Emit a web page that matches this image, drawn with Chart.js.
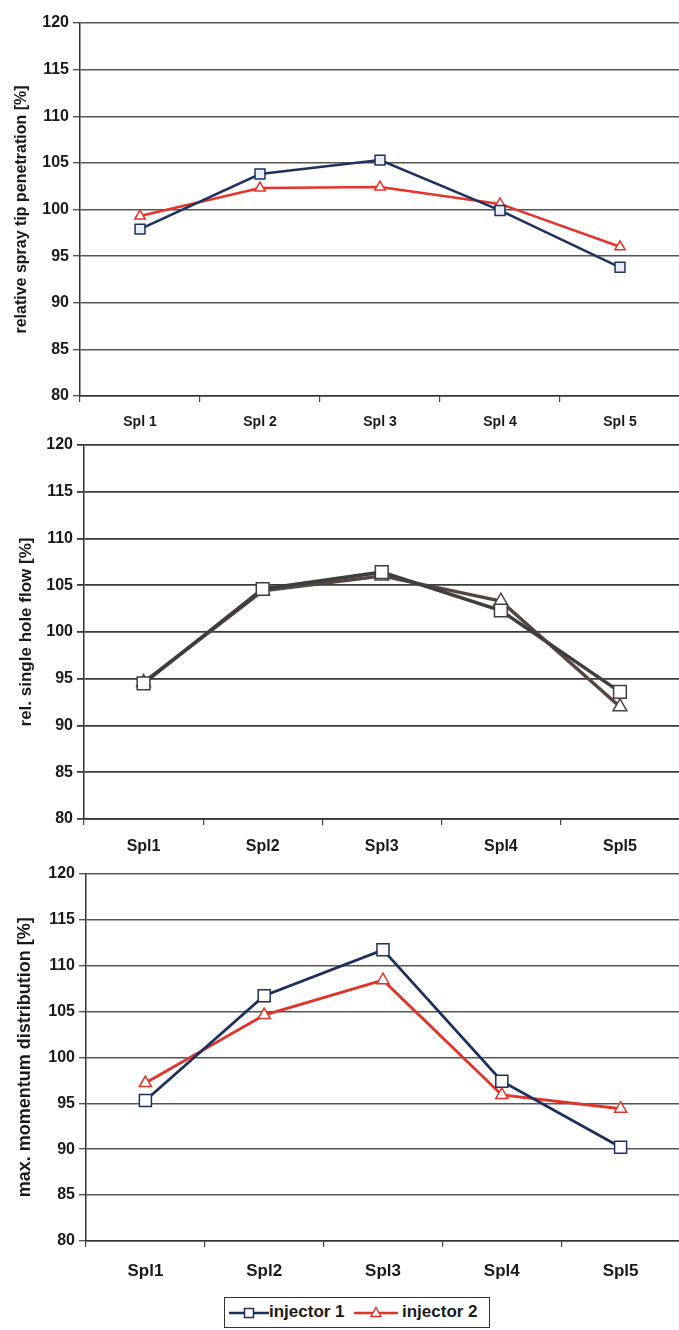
<!DOCTYPE html>
<html>
<head>
<meta charset="utf-8">
<script src="https://cdn.jsdelivr.net/npm/chart.js@4.4.1/dist/chart.umd.min.js"></script>
<style>
  html, body { margin: 0; padding: 0; background: #fff; }
  body { width: 679px; height: 1330px; overflow: hidden; position: relative; font-family: "Liberation Sans", Arial, sans-serif; }
  canvas { position: absolute; left: 0; }
  #legend { position: absolute; left: 224px; top: 1297px; width: 264px; height: 29px; border: 1.5px solid #333; background: #fff; }
  #legend svg { position: absolute; left: 0; top: 0; }
  #legend span { position: absolute; top: 4px; font-weight: bold; font-size: 17px; color: #1a1a1a; white-space: nowrap; }
</style>
</head>
<body>
<canvas id="c1" width="690" height="440" style="top:0px"></canvas>
<canvas id="c2" width="690" height="430" style="top:430px"></canvas>
<canvas id="c3" width="690" height="430" style="top:860px"></canvas>
<div id="legend">
  <svg width="264" height="29">
    <line x1="4" y1="15" x2="44" y2="15" stroke="#1c2f5e" stroke-width="2.5"/>
    <rect x="19.5" y="10.5" width="9" height="9" fill="#fff" stroke="#1c2f5e" stroke-width="1.5"/>
    <line x1="129" y1="15" x2="173" y2="15" stroke="#e0342b" stroke-width="2.5"/>
    <polygon points="151,9.5 156,18.5 146,18.5" fill="#fff" stroke="#e0342b" stroke-width="1.5"/>
  </svg>
  <span style="left:44px">injector 1</span>
  <span style="left:177px">injector 2</span>
</div>
<script>
// Spray categories
const spraysSpaced = ['Spl 1', 'Spl 2', 'Spl 3', 'Spl 4', 'Spl 5'];
const sprays = ['Spl1', 'Spl2', 'Spl3', 'Spl4', 'Spl5'];

// Relative spray tip penetration [%]
const penetrationInj1 = [97.9, 103.8, 105.3, 99.9, 93.8];
const penetrationInj2 = [99.3, 102.3, 102.4, 100.6, 96.0];

// Relative single hole flow [%]
const flowInj1 = [94.5, 104.6, 106.4, 102.3, 93.6];
const flowInj2 = [94.6, 104.4, 106.0, 103.3, 92.0];

// Max. momentum distribution [%]
const momentumInj1 = [95.3, 106.7, 111.7, 97.4, 90.2];
const momentumInj2 = [97.2, 104.6, 108.4, 95.9, 94.4];

const yTickValues = [80, 85, 90, 95, 100, 105, 110, 115, 120];

const FONT = '"Liberation Sans", Arial, sans-serif';

function makeChart(id, cfg) {
  return new Chart(document.getElementById(id), {
    type: 'line',
    data: {
      labels: cfg.labels,
      datasets: [
        {
          label: 'injector 1',
          data: cfg.s1,
          borderColor: cfg.c1,
          backgroundColor: cfg.c1,
          borderWidth: cfg.lw,
          tension: 0,
          pointStyle: 'rect',
          pointRadius: cfg.sq,
          pointBorderWidth: 1.5,
          pointBorderColor: cfg.c1,
          pointBackgroundColor: cfg.fill1
        },
        {
          label: 'injector 2',
          data: cfg.s2,
          borderColor: cfg.c2,
          backgroundColor: cfg.c2,
          borderWidth: cfg.lw,
          tension: 0,
          pointStyle: 'triangle',
          pointRadius: cfg.tr,
          pointBorderWidth: 1.5,
          pointBorderColor: cfg.c2,
          pointBackgroundColor: '#ffffff'
        }
      ]
    },
    options: {
      responsive: false,
      animation: false,
      devicePixelRatio: 1,
      layout: { padding: { top: cfg.padTop, right: cfg.padRight, left: 0, bottom: 0 } },
      plugins: { legend: { display: false }, tooltip: { enabled: false } },
      scales: {
        x: {
          offset: true,
          grid: { offset: true, drawOnChartArea: false, drawTicks: true, tickLength: 6, color: '#444', lineWidth: 1.2 },
          border: { color: '#333', width: 1.5 },
          ticks: { color: '#1a1a1a', padding: cfg.xPad, font: { family: FONT, size: cfg.xFont, weight: 'bold' } },
          afterFit: s => { s.height = cfg.xH; }
        },
        y: {
          min: 80,
          max: 120,
          afterBuildTicks: s => { s.ticks = yTickValues.map(v => ({ value: v })); },
          grid: { color: cfg.grid, lineWidth: cfg.gw, tickLength: 7 },
          border: { color: '#333', width: 1.5 },
          ticks: { color: '#1a1a1a', padding: 4, font: { family: FONT, size: 16, weight: 'bold' } },
          title: {
            display: true,
            text: cfg.title,
            color: '#1a1a1a',
            padding: { top: cfg.titlePad, bottom: 0 },
            font: { family: FONT, size: cfg.titleFont, weight: 'bold' }
          },
          afterFit: s => { s.width = cfg.yW; }
        }
      }
    }
  });
}

makeChart('c1', {
  labels: spraysSpaced, s1: penetrationInj1, s2: penetrationInj2,
  c1: '#1e3160', c2: '#e8322a', fill1: '#e9eef6', lw: 2.5, sq: 7, tr: 6,
  grid: '#555', gw: 1.4,
  padTop: 23, padRight: 10, yW: 80, xH: 44, xPad: 12, xFont: 14,
  title: 'relative spray tip penetration [%]', titleFont: 16, titlePad: 12
});

makeChart('c2', {
  labels: sprays, s1: flowInj1, s2: flowInj2,
  c1: '#3e3e3e', c2: '#564642', fill1: '#ffffff', lw: 3.5, sq: 9, tr: 8,
  grid: '#3a3a3a', gw: 1.8,
  padTop: 15, padRight: 2, yW: 84, xH: 41, xPad: 12, xFont: 16,
  title: 'rel. single hole flow [%]', titleFont: 17, titlePad: 16
});

makeChart('c3', {
  labels: sprays, s1: momentumInj1, s2: momentumInj2,
  c1: '#1c2f5e', c2: '#e0342b', fill1: '#ffffff', lw: 2.8, sq: 8.5, tr: 7,
  grid: '#555', gw: 1.4,
  padTop: 10, padRight: 4, yW: 86, xH: 49, xPad: 14, xFont: 17,
  title: 'max. momentum distribution [%]', titleFont: 18, titlePad: 14
});
</script>
</body>
</html>
